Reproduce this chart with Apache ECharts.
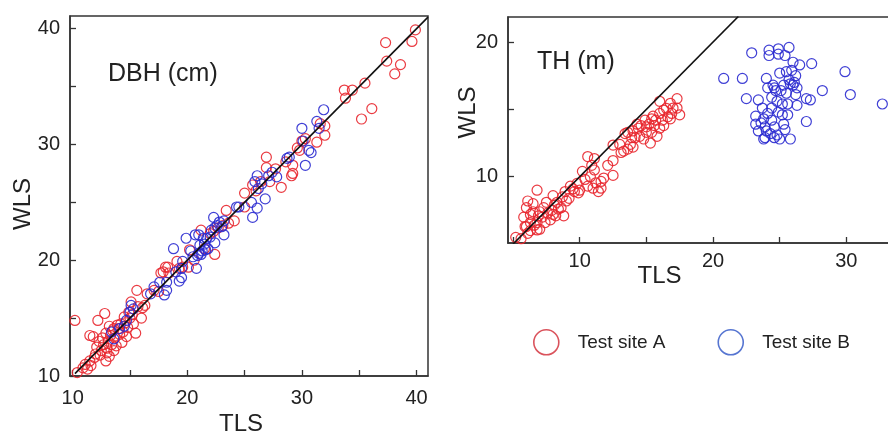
<!DOCTYPE html>
<html>
<head>
<meta charset="utf-8">
<script src="https://cdn.jsdelivr.net/npm/echarts@6/dist/echarts.min.js"></script>
<style>
html,body{margin:0;padding:0;background:#fff;}
#chart{width:888px;height:435px;}
</style>
</head>
<body>
<div id="chart"></div>
<script>
// ---- data ----
var seriesNames = ['Test site A', 'Test site B'];
var panelTitles = ['DBH (cm)', 'TH (m)'];
var axisNames = ['TLS', 'WLS'];

var dbhTicks = [10, 15, 20, 25, 30, 35, 40];
var dbhLabels = [10, 20, 30, 40];
var thXTicks = [5, 10, 15, 20, 25, 30, 35];
var thXLabels = [10, 20, 30];
var thYTicks = [10, 15, 20];
var thYLabels = [10, 20];

// DBH, test site A  [TLS, WLS]
var dbhSiteA = [
 [10.2,14.8],[10.4,10.3],[10.9,10.7],[11.1,11.0],[11.3,10.6],[11.5,11.3],[11.6,10.9],[11.5,13.5],[11.8,13.4],[12.0,11.9],
 [12.1,12.5],[12.3,13.0],[12.2,14.8],[12.5,12.2],[12.6,13.3],[12.7,12.7],[12.8,15.4],[12.9,13.7],[13.0,12.0],[13.0,12.4],
 [13.1,13.0],[13.2,14.3],[13.3,13.5],[13.4,12.7],[13.5,13.9],[13.6,14.1],[13.7,13.3],[13.8,12.6],[13.9,14.4],[14.0,14.1],
 [14.1,13.6],[14.3,12.9],[14.4,13.8],[14.5,15.1],[14.6,14.6],[14.8,14.2],[14.9,15.5],[15.0,15.0],[15.1,16.4],[15.3,14.5],
 [15.5,13.7],[15.6,17.4],[15.7,16.0],[16.0,15.0],[16.3,16.1],[16.5,17.1],[17.1,17.4],[17.5,17.3],[17.7,18.9],[17.9,19.0],
 [18.1,19.4],[18.3,19.4],[18.4,18.9],[19.1,19.9],[19.3,19.3],[19.6,19.4],[20.1,19.4],[20.2,20.9],[20.6,20.0],[21.2,22.6],
 [21.5,21.0],[22.0,22.3],[22.3,22.5],[22.4,20.5],[22.7,22.8],[23.1,23.0],[23.4,24.3],[23.6,23.2],[24.1,23.4],[25.0,24.6],
 [25.0,25.8],[25.7,26.5],[26.0,26.0],[26.4,26.8],[26.9,28.9],[26.9,28.0],[27.2,26.8],[27.7,27.9],[28.2,26.3],[28.6,28.5],
 [29.1,27.3],[29.2,27.5],[29.2,28.2],[29.6,29.7],[29.8,29.5],[30.0,30.3],[30.3,30.5],[31.3,30.2],[31.6,31.8],[32.0,31.6],
 [32.0,30.8],[33.7,34.7],[33.8,34.0],[34.4,34.7],[35.2,32.2],[35.5,35.3],[36.1,33.1],[37.3,38.8],[37.4,37.2],[38.1,36.1],
 [38.6,36.9],[39.6,38.9],[39.9,39.9],[11.9,11.6],[12.4,11.8],[13.2,11.7],[12.9,11.3],[14.2,14.5],[15.2,15.3],[16.1,15.9],
 [14.7,13.4],[13.6,12.2]
];
// DBH, test site B
var dbhSiteB = [
 [14.1,14.1],[14.5,14.3],[14.7,14.8],[15.0,15.5],[15.1,16.1],[15.3,15.8],[13.4,13.8],[13.6,13.2],[16.8,17.1],[17.1,17.7],
 [17.6,18.1],[18.0,17.0],[18.2,17.4],[18.2,18.1],[18.8,21.0],[19.0,19.0],[19.3,18.2],[19.5,18.5],[19.5,19.3],[19.6,19.9],
 [19.9,21.9],[20.3,20.8],[20.5,20.3],[20.7,22.2],[20.8,19.3],[20.9,20.4],[21.0,20.6],[21.0,22.2],[21.1,21.3],[21.2,20.5],
 [21.3,20.8],[21.4,21.9],[21.5,21.4],[21.6,20.9],[21.7,21.9],[21.8,21.0],[22.0,22.0],[22.1,22.6],[22.3,23.7],[22.4,21.5],
 [22.4,22.8],[22.6,23.0],[22.8,23.3],[23.0,22.9],[23.2,23.4],[23.2,22.2],[24.3,24.6],[24.5,24.6],[25.6,25.0],[25.7,23.7],
 [25.9,26.8],[26.1,24.5],[26.1,27.3],[26.2,26.2],[26.5,26.6],[26.8,25.3],[27.1,27.3],[27.4,27.6],[27.8,27.2],[28.7,28.8],
 [28.9,28.9],[30.0,31.4],[30.1,30.3],[30.3,28.2],[30.6,29.5],[30.8,29.3],[31.3,32.0],[31.5,31.4],[31.9,33.0]
];
// TH, test site A
var thSiteA = [
 [5.2,5.5],[5.6,5.4],[5.9,6.3],[6.0,6.3],[6.1,5.8],[6.3,6.0],[6.3,6.6],[6.3,7.2],[6.0,7.7],[6.1,8.2],
 [6.5,8.0],[6.6,6.4],[6.8,6.6],[6.9,7.1],[7.0,6.1],[6.8,9.0],[7.2,7.0],[7.3,7.7],[7.5,8.1],[7.8,6.8],
 [7.9,7.5],[6.8,6.05],[8.0,8.6],[8.1,7.9],[8.2,7.1],[8.3,8.1],[8.6,7.7],[8.7,8.5],[8.8,7.1],[8.9,8.9],
 [9.2,8.4],[9.3,9.3],[9.6,8.9],[9.8,9.5],[9.9,8.8],[10.0,9.0],[10.2,10.4],[10.4,9.8],[10.6,9.3],[10.6,11.5],
 [10.8,10.0],[10.9,10.85],[11.0,9.15],[11.1,11.35],[11.1,10.5],[11.2,9.55],[11.4,8.9],[11.6,9.65],[11.6,9.15],[11.8,9.9],
 [12.1,10.85],[12.5,11.2],[12.5,10.1],[12.5,12.35],[13.0,12.4],[13.1,11.8],[13.3,11.9],[13.4,13.2],[13.6,13.3],[13.6,12.05],
 [13.8,12.4],[13.9,12.9],[14.0,13.4],[14.0,12.2],[14.15,12.9],[14.3,13.9],[14.4,13.6],[14.5,13.0],[14.6,13.8],[14.8,12.8],
 [14.9,14.2],[15.0,13.7],[15.0,13.3],[15.2,13.9],[15.3,12.5],[15.4,14.3],[15.4,13.3],[15.5,14.5],[15.6,13.8],[15.7,14.2],
 [15.8,13.0],[16.0,14.7],[16.0,13.6],[16.0,15.6],[16.2,14.2],[16.3,14.95],[16.3,13.8],[16.5,15.08],[16.6,14.45],[16.8,14.3],
 [16.8,15.45],[16.9,14.7],[17.0,15.1],[17.3,15.8],[17.3,15.1],[17.5,14.6],[7.0,7.4],[7.4,6.6],[7.6,7.3],[8.4,7.6],
 [9.0,8.2],[9.5,9.1],[5.8,7.0],[6.5,7.4],[8.0,7.2]
];
// TH, test site B
var thSiteB = [
 [20.8,17.3],[22.2,17.3],[22.5,15.8],[22.9,19.2],[23.2,14.5],[23.2,13.9],[23.4,15.7],[23.4,13.4],[23.7,15.1],[23.8,14.3],
 [23.8,12.8],[23.9,13.7],[23.9,12.9],[24.0,17.3],[24.1,16.6],[24.2,19.4],[24.2,19.0],[24.3,13.2],[24.4,15.9],[24.4,15.1],
 [24.4,14.2],[24.6,16.6],[24.6,13.7],[24.7,16.4],[24.8,13.1],[24.9,19.5],[24.9,19.1],[24.9,14.8],[25.0,17.7],[25.0,12.8],
 [25.2,15.4],[25.2,14.6],[25.3,16.8],[25.4,19.0],[25.4,13.5],[25.5,17.8],[25.5,16.2],[25.6,15.4],[25.6,14.6],[25.7,19.6],
 [25.8,16.9],[25.8,12.8],[26.0,18.5],[26.2,17.5],[26.2,16.1],[26.3,16.6],[26.3,15.3],[26.5,18.3],[27.0,15.8],[27.0,14.1],
 [27.3,15.7],[27.4,18.4],[28.2,16.4],[29.9,17.8],[30.3,16.1],[32.7,15.4],[24.5,16.8],[25.1,16.4],[25.7,17.2],[26.0,16.8],
 [25.9,17.9],[24.8,15.6],[23.6,14.0],[24.1,14.7],[24.0,13.4],[25.3,13.9],[24.6,12.9],[26.1,17.0]
];
// 1:1 reference lines
var dbhOneToOne = [[10.2,10.2],[41,41]];
var thOneToOne = [[5.0,5.0],[21.9,21.9]];

// ---- styles ----
var FONT = 'Liberation Sans, Arial, Helvetica, sans-serif';
var RED = '#e8262e';
var BLUE = '#2b2bd0';
var AXIS = '#333333';

function xAxisCfg(gi, min, max, ticks, labels, nameGap, namePad, margin) {
  return {
    type: 'value', gridIndex: gi, min: min, max: max,
    name: axisNames[0], nameLocation: 'middle', nameGap: nameGap, nameMoveOverlap: false,
    nameTextStyle: {fontFamily: FONT, fontSize: 24, color: '#222', padding: namePad},
    axisLine: {show: true, lineStyle: {color: AXIS, width: 1.5}},
    axisTick: {show: true, inside: true, length: 6, customValues: ticks, lineStyle: {color: AXIS, width: 1.3}},
    axisLabel: {customValues: labels, margin: margin, fontFamily: FONT, fontSize: 20, color: '#222'},
    splitLine: {show: false}
  };
}
function yAxisCfg(gi, min, max, ticks, labels, nameGap, namePad) {
  return {
    type: 'value', gridIndex: gi, min: min, max: max,
    name: axisNames[1], nameLocation: 'middle', nameGap: nameGap, nameMoveOverlap: false,
    nameTextStyle: {fontFamily: FONT, fontSize: 24, color: '#222', padding: namePad},
    axisLine: {show: true, lineStyle: {color: AXIS, width: 1.5}},
    axisTick: {show: true, inside: true, length: 6, customValues: ticks, lineStyle: {color: AXIS, width: 1.3}},
    axisLabel: {customValues: labels, margin: 10, fontFamily: FONT, fontSize: 20, color: '#222'},
    splitLine: {show: false}
  };
}
function scatter(name, data, color, gi) {
  return {
    type: 'scatter', name: name, xAxisIndex: gi, yAxisIndex: gi, data: data,
    symbol: 'circle', symbolSize: 10,
    itemStyle: {color: 'rgba(0,0,0,0)', borderColor: color, borderWidth: 1.2, opacity: 0.9},
    emphasis: {disabled: true}
  };
}
function refLine(data, gi) {
  return {
    type: 'line', xAxisIndex: gi, yAxisIndex: gi, data: data, symbol: 'none',
    lineStyle: {color: '#111', width: 1.6}, silent: true, z: 3
  };
}

var chart = echarts.init(document.getElementById('chart'), null, {renderer: 'canvas'});
chart.setOption({
  animation: false,
  backgroundColor: '#fff',
  title: [
    {text: panelTitles[0], left: 103, top: 57, textStyle: {fontFamily: FONT, fontSize: 25, fontWeight: 'normal', color: '#222'}},
    {text: panelTitles[1], left: 532, top: 45, textStyle: {fontFamily: FONT, fontSize: 25, fontWeight: 'normal', color: '#222'}}
  ],
  legend: {
    left: 528, top: 324, icon: 'circle', itemWidth: 25, itemHeight: 25, itemGap: 52,
    textStyle: {fontFamily: FONT, fontSize: 19, color: '#222', padding: [0, 0, 0, 14]},
    selectedMode: false,
    data: [
      {name: seriesNames[0], itemStyle: {color: 'rgba(0,0,0,0)', borderColor: '#d6404a', borderWidth: 1.6}},
      {name: seriesNames[1], itemStyle: {color: 'rgba(0,0,0,0)', borderColor: '#4466cc', borderWidth: 1.6}}
    ]
  },
  grid: [
    {left: 70, top: 16, width: 358, height: 360, show: true, borderColor: AXIS, borderWidth: 1.5, backgroundColor: 'transparent', outerBoundsMode: 'none', containLabel: false},
    {left: 508, top: 17, width: 405, height: 226, show: true, borderColor: AXIS, borderWidth: 1.5, backgroundColor: 'transparent', outerBoundsMode: 'none', containLabel: false}
  ],
  xAxis: [
    xAxisCfg(0, 9.77, 41, dbhTicks, dbhLabels, 36, [0, 16, 0, 0], 12),
    xAxisCfg(1, 4.62, 35, thXTicks, thXLabels, 21, [0, 102, 0, 0], 8)
  ],
  yAxis: [
    yAxisCfg(0, 10, 41.1, dbhTicks, dbhLabels, 35, [0, 16, 0, 0]),
    yAxisCfg(1, 5.08, 21.86, thYTicks, thYLabels, 28, [0, 0, 0, 35])
  ],
  series: [
    scatter(seriesNames[0], dbhSiteA, RED, 0),
    scatter(seriesNames[1], dbhSiteB, BLUE, 0),
    refLine(dbhOneToOne, 0),
    scatter(seriesNames[0], thSiteA, RED, 1),
    scatter(seriesNames[1], thSiteB, BLUE, 1),
    refLine(thOneToOne, 1)
  ]
});
</script>
</body>
</html>
